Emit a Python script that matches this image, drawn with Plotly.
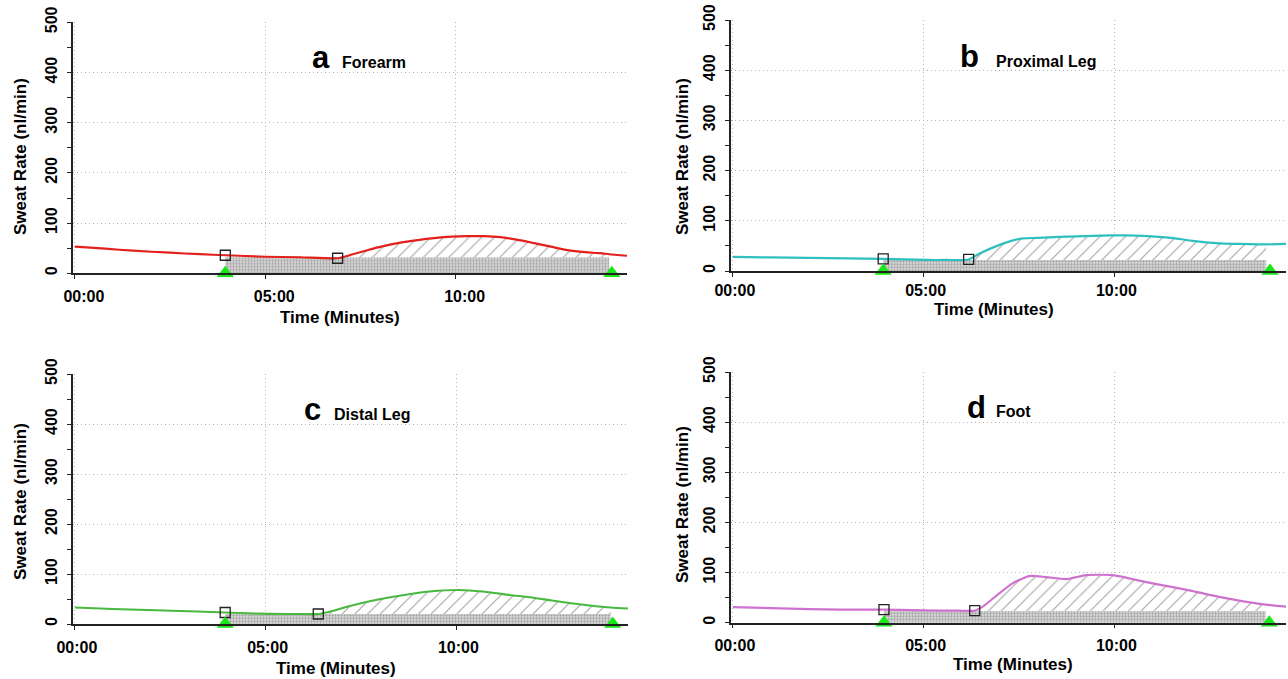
import plotly.graph_objects as go

# ---------------- data ----------------
# Panel a: Forearm
a_time = [0, 0.8, 1.53, 2.5, 3.29, 3.95, 5.0, 5.92, 6.9, 7.3, 7.68, 8.1, 8.55, 9.0, 9.43,
          9.9, 10.3, 10.75, 11.18, 11.6, 12.06, 12.5, 12.94, 13.4, 13.8, 14.03, 14.5]
a_rate = [53, 49, 45, 41, 38, 36, 33, 32, 30, 38, 46, 54, 61, 66, 70,
          73, 74, 74, 72, 67, 60, 53, 46, 42, 40, 38, 35]
a_squares = [3.95, 6.9]
a_window = [3.95, 14.03]
a_triangles = [3.95, 14.1]
a_base = 32

# Panel b: Proximal Leg
b_time = [0, 1, 2, 3, 3.94, 4.5, 5.07, 5.6, 6.18, 6.47, 6.99, 7.3, 7.6, 8.0, 8.56, 9.0,
          9.43, 9.9, 10.3, 10.75, 11.18, 11.6, 12.05, 12.4, 12.75, 13.3, 13.8, 13.98, 14.5]
b_rate = [28, 27, 26, 25, 24, 23, 22, 22, 23, 35, 52, 60, 65, 66, 68, 69,
          70, 71, 71, 70, 68, 65, 60, 57, 55, 54, 53, 53, 54]
b_squares = [3.94, 6.18]
b_window = [3.94, 13.98]
b_triangles = [3.94, 14.08]
b_base = 22

# Panel c: Distal Leg
c_time = [0, 1, 2.33, 3.2, 3.94, 4.7, 5.55, 6.0, 6.38, 6.75, 7.16, 7.7, 8.23, 8.8, 9.3,
          10.03, 10.5, 10.9, 11.4, 11.98, 12.5, 13.06, 13.5, 14.05, 14.5]
c_rate = [33, 30, 27, 25, 23, 21, 20, 20, 20, 26, 35, 45, 53, 60, 65,
          68, 66, 63, 58, 53, 47, 41, 37, 33, 31]
c_squares = [3.94, 6.38]
c_window = [3.94, 14.05]
c_triangles = [3.94, 14.1]
c_base = 20

# Panel d: Foot
d_time = [0, 1, 2, 2.8, 3.96, 4.7, 5.42, 5.9, 6.34, 6.55, 6.99, 7.34, 7.77, 8.21, 8.74,
          9.26, 9.96, 10.3, 10.65, 11.1, 11.53, 12.0, 12.4, 12.85, 13.27, 13.97, 14.5]
d_rate = [31, 29, 27, 26, 26, 25, 24, 24, 24, 32, 59, 79, 93, 91, 87,
          95, 95, 90, 84, 77, 71, 64, 57, 50, 44, 36, 32]
d_squares = [3.96, 6.34]
d_window = [3.96, 13.97]
d_triangles = [3.96, 14.06]
d_base = 24

letters = ["a", "b", "c", "d"]
site_names = ["Forearm", "Proximal Leg", "Distal Leg", "Foot"]
x_tick_values = [0, 5, 10]
x_tick_labels = ["00:00", "05:00", "10:00"]
y_tick_values = [0, 100, 200, 300, 400, 500]

# ---------------- layout helpers ----------------
W, H = 1288, 679


def fx(p):
    return p / W


def fy(p):
    return 1 - p / H


FONT = "Liberation Sans, Arial, sans-serif"
colors = ["#e3201b", "#2fbfbf", "#48b83e", "#cf72cf"]

# pixel geometry of each panel: left, right, y(500), y(0)
geom = [
    (73, 627, 22.3, 273.3),
    (731, 1286, 20, 271),
    (73, 628, 374, 624),
    (731, 1286, 372, 622.7),
]
tick_shift = [9, 2, 2, 2]
x_standoff = [4, 0, 4, 3]
ytitle_pos = [(20, 157), (682, 157), (20, 502), (682, 505)]
xtitle_pos = [(340, 317), (994, 310), (336, 668), (1013, 664)]
letter_pos = [(321, 68), (969, 67), (312, 420), (976, 418)]
name_pos = [(374, 68), (1046, 67), (372, 420), (1013, 417)]

panels = [
    (a_time, a_rate, a_squares, a_window, a_triangles, a_base),
    (b_time, b_rate, b_squares, b_window, b_triangles, b_base),
    (c_time, c_rate, c_squares, c_window, c_triangles, c_base),
    (d_time, d_rate, d_squares, d_window, d_triangles, d_base),
]

fig = go.Figure()
annotations = []

for i, (t, r, sq, win, tri, base) in enumerate(panels):
    n = i + 1
    xa = "x" if n == 1 else f"x{n}"
    ya = "y" if n == 1 else f"y{n}"
    col = colors[i]

    # dotted grey baseline area
    fig.add_trace(go.Scatter(
        x=win, y=[base, base], xaxis=xa, yaxis=ya, mode="none",
        fill="tozeroy", fillcolor="#d9d9d9",
        fillpattern=dict(shape=".", fgcolor="#6e6e6e", bgcolor="#dadada", size=3, solidity=0.45),
        hoverinfo="skip", showlegend=False))

    # hatched response area between baseline and curve (closed polygon)
    i2 = t.index(sq[1])
    iend = t.index(win[1])
    hx = t[i2:iend + 1] + [win[1], sq[1]]
    hy = r[i2:iend + 1] + [base, base]
    fig.add_trace(go.Scatter(
        x=hx, y=hy, xaxis=xa, yaxis=ya, mode="none",
        fill="toself", fillcolor="white",
        fillpattern=dict(shape="/", fgcolor="#3c3c3c", bgcolor="white", size=9, solidity=0.11),
        hoverinfo="skip", showlegend=False))

    # sweat rate trace
    fig.add_trace(go.Scatter(
        x=t, y=r, xaxis=xa, yaxis=ya, mode="lines",
        line=dict(color=col, width=2.2, shape="spline", smoothing=0.6),
        name=site_names[i], showlegend=False))

    # square markers
    fig.add_trace(go.Scatter(
        x=sq, y=[r[t.index(s)] for s in sq], xaxis=xa, yaxis=ya, mode="markers",
        marker=dict(symbol="square-open", size=10, color="#222222", line=dict(width=1.3)),
        cliponaxis=False, showlegend=False, hoverinfo="skip"))

    # green triangles
    fig.add_trace(go.Scatter(
        x=tri, y=[0, 0], xaxis=xa, yaxis=ya, mode="markers",
        marker=dict(symbol="triangle-up", size=15, color="#19e619"),
        cliponaxis=False, showlegend=False, hoverinfo="skip"))

    left, right, ytop, ybot = geom[i]
    axis_common = dict(
        showline=True, linecolor="#222222", linewidth=1.5,
        showgrid=True, gridcolor="#b4b4b4", griddash="1px,3px", gridwidth=1,
        zeroline=False, ticks="outside", ticklen=4, tickcolor="#222222",
        tickfont=dict(family=FONT, size=16, color="black", weight="bold"),
        automargin=False, fixedrange=True,
    )
    fig.update_layout(**{
        ("xaxis" if n == 1 else f"xaxis{n}"): dict(
            axis_common, domain=[fx(left), fx(right)], range=[-0.05, 14.5],
            anchor=ya, tickvals=x_tick_values, ticktext=x_tick_labels,
            ticklabelshift=tick_shift[i], ticklabelstandoff=x_standoff[i]),
        ("yaxis" if n == 1 else f"yaxis{n}"): dict(
            axis_common, domain=[fy(ybot), fy(ytop)], range=[0, 500],
            anchor=xa, tickvals=y_tick_values, tickangle=-90,
            ticklabelstandoff=4,
            minor=dict(dtick=50, ticks="outside", ticklen=4, tickcolor="#222222", showgrid=False)),
    })

    # axis titles and panel labels
    yx, yy = ytitle_pos[i]
    annotations.append(dict(
        text="Sweat Rate (nl/min)", x=fx(yx), y=fy(yy), xref="paper", yref="paper",
        textangle=-90, showarrow=False, xanchor="center", yanchor="middle",
        font=dict(family=FONT, size=17, color="black", weight="bold")))
    tx, ty = xtitle_pos[i]
    annotations.append(dict(
        text="Time (Minutes)", x=fx(tx), y=fy(ty), xref="paper", yref="paper",
        showarrow=False, xanchor="center", yanchor="middle",
        font=dict(family=FONT, size=17, color="black", weight="bold")))
    lx, lyb = letter_pos[i]
    annotations.append(dict(
        text=letters[i], x=fx(lx), y=fy(lyb - 11), xref="paper", yref="paper",
        showarrow=False, xanchor="center", yanchor="middle",
        font=dict(family=FONT, size=31, color="black", weight="bold")))
    nx, nyb = name_pos[i]
    annotations.append(dict(
        text=site_names[i], x=fx(nx), y=fy(nyb - 6), xref="paper", yref="paper",
        showarrow=False, xanchor="center", yanchor="middle",
        font=dict(family=FONT, size=16, color="black", weight="bold")))

fig.update_layout(
    width=W, height=H, margin=dict(l=0, r=0, t=0, b=0, autoexpand=False),
    paper_bgcolor="white", plot_bgcolor="white",
    font=dict(family=FONT, color="black"),
    annotations=annotations, showlegend=False,
)

fig.write_html("out.html")
